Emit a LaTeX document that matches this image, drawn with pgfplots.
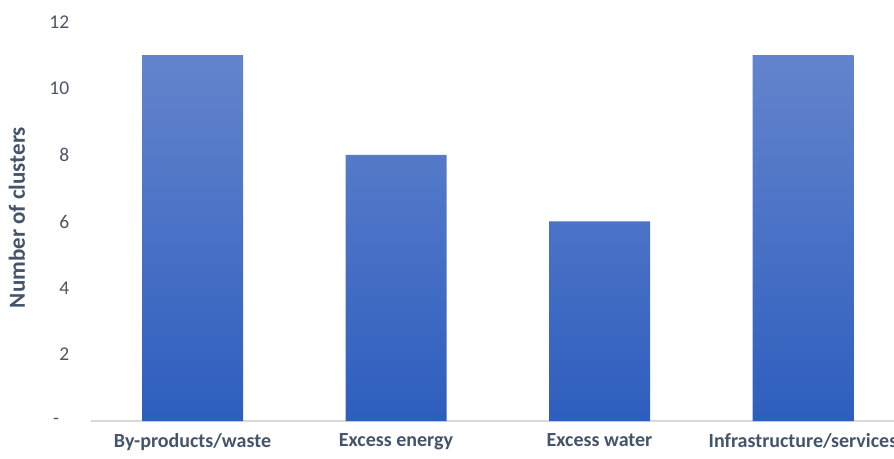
\documentclass[border=0pt]{standalone}
\usepackage{pgfplots}
\pgfplotsset{compat=1.18}
\usepackage{fontspec}
\setmainfont{Carlito}
\definecolor{txt}{HTML}{44546A}
\definecolor{tick}{HTML}{4A5568}
\definecolor{barTop}{HTML}{6384CD}
\definecolor{barBot}{HTML}{2E5EBE}
\definecolor{axl}{HTML}{D9D9D9}
\begin{document}
\begin{tikzpicture}
\useasboundingbox (0,0) rectangle (894pt,458pt);
\clip (0,0) rectangle (894pt,458pt);
\begin{pgfinterruptboundingbox}
\begin{axis}[
  at={(90.75pt,37pt)}, anchor=south west,
  scale only axis, width=814pt, height=399pt,
  xmin=-0.5, xmax=3.5, ymin=0, ymax=12,
  axis x line*=bottom, axis y line*=left,
  x axis line style={draw=axl, line width=1.5pt},
  y axis line style={draw=none},
  major tick length=0pt,
  xtick={0,1,2,3},
  xticklabels={By-products/waste, Excess energy, Excess water, Infrastructure/services},
  xticklabel style={font=\fontsize{20}{24}\selectfont\bfseries, text=txt, yshift=-9pt},
  ytick={0,2,4,6,8,10,12},
  yticklabels={{-\kern10pt},2,4,6,8,10,12},
  yticklabel style={font=\fontsize{19.5}{23}\selectfont, text=tick, xshift=-18pt},
  ylabel={Number of clusters},
  every axis y label/.style={at={(axis description cs:-0.0906,0.51)}, anchor=center, rotate=90, font=\fontsize{23}{27}\selectfont\bfseries, text=txt},
  clip=false,
]
\addplot[ybar, bar width=101pt, draw=none, top color=barTop, bottom color=barBot] coordinates {(0,11) (1,8) (2,6) (3,11)};
\end{axis}
\end{pgfinterruptboundingbox}
\end{tikzpicture}
\end{document}
